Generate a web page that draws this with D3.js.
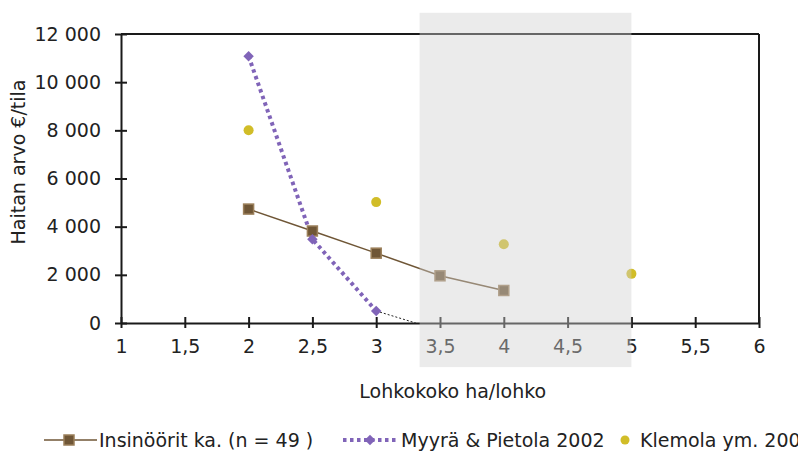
<!DOCTYPE html>
<html>
<head>
<meta charset="utf-8">
<script src="https://cdn.jsdelivr.net/npm/d3@7"></script>
<style>
  body { margin: 0; background: #fff; }
  svg { font-family: "DejaVu Sans", Verdana, sans-serif; }
</style>
</head>
<body>
<div id="chart"></div>
<script>
// chart data
var insX = [2, 2.5, 3, 3.5, 4];
var insY = [4730, 3820, 2900, 1960, 1350];

var myyraX = [2, 2.5, 3];
var myyraY = [11080, 3480, 500];

// thin dotted continuation of the Myyrä line
var trendX = [3, 3.31];
var trendY = [500, 0];

var klemolaX = [2, 3, 4, 5];
var klemolaY = [8000, 5020, 3270, 2040];

var xTicks = [1, 1.5, 2, 2.5, 3, 3.5, 4, 4.5, 5, 5.5, 6];
var yTicks = [0, 2000, 4000, 6000, 8000, 10000, 12000];

// shaded band
var shadeX = [3.34, 5];
var shadeY = [12880, -1830];

var legendNames = ["Insinöörit ka. (n = 49 )", "Myyrä & Pietola 2002", "Klemola ym. 2002"];

// dimensions
var margin = {top: 34, right: 39, bottom: 129, left: 121},
    width = 798 - margin.left - margin.right,
    height = 452 - margin.top - margin.bottom;

var x = d3.scaleLinear().domain([1, 6]).range([0, width]);
var y = d3.scaleLinear().domain([0, 12000]).range([height, 0]);

var svg = d3.select("#chart").append("svg")
    .attr("width", 798)
    .attr("height", 452)
    .style("overflow", "visible");

var plot = svg.append("g")
    .attr("transform", "translate(" + margin.left + "," + margin.top + ")");

var fmtNum = function(d) { return d3.format(",")(d).replace(/,/g, " "); };
var fmtDec = function(d) { return String(d).replace(".", ","); };
var fs = "19px";

// frame: top and right lines
plot.append("line").attr("x1", 0).attr("x2", width).attr("y1", 0).attr("y2", 0)
    .attr("stroke", "#1a1a1a").attr("stroke-width", 2);
plot.append("line").attr("x1", width).attr("x2", width).attr("y1", 0).attr("y2", height)
    .attr("stroke", "#1a1a1a").attr("stroke-width", 2);

// axes
var yAxis = plot.append("g")
    .call(d3.axisLeft(y).tickValues(yTicks).tickFormat(fmtNum).tickSizeInner(5).tickSizeOuter(0).tickPadding(15));
var xAxis = plot.append("g")
    .attr("transform", "translate(0," + height + ")")
    .call(d3.axisBottom(x).tickValues(xTicks).tickFormat(fmtDec).tickSizeInner(5).tickSizeOuter(0).tickPadding(12));

[yAxis, xAxis].forEach(function(a) {
  a.select(".domain").attr("stroke", "#1a1a1a").attr("stroke-width", 2);
  a.selectAll(".tick line").attr("stroke", "#1a1a1a").attr("stroke-width", 2);
  a.selectAll(".tick text").attr("fill", "#222").style("font-size", fs).style("font-family", "DejaVu Sans, Verdana, sans-serif");
});
// ticks crossing the axis line
yAxis.selectAll(".tick line").attr("x1", 6).attr("x2", -6);
xAxis.selectAll(".tick line").attr("y1", -6).attr("y2", 5);

// axis titles
svg.append("text")
    .attr("transform", "translate(25,162) rotate(-90)")
    .attr("text-anchor", "middle")
    .attr("fill", "#222")
    .style("font-size", fs)
    .text("Haitan arvo €/tila");

svg.append("text")
    .attr("x", margin.left + x(3.6))
    .attr("y", 398)
    .attr("text-anchor", "middle")
    .attr("fill", "#222")
    .style("font-size", fs)
    .text("Lohkokoko ha/lohko");

// series
var insData = insX.map(function(d, i) { return {x: d, y: insY[i]}; });
var myyraData = myyraX.map(function(d, i) { return {x: d, y: myyraY[i]}; });
var trendData = trendX.map(function(d, i) { return {x: d, y: trendY[i]}; });
var klemolaData = klemolaX.map(function(d, i) { return {x: d, y: klemolaY[i]}; });

var line = d3.line()
    .x(function(d) { return x(d.x); })
    .y(function(d) { return y(d.y); });

var brown = "#6f5636", brownEdge = "#9b7f5a";
var purple = "#8064b8";
var yellow = "#d1bd28";

plot.append("path").datum(trendData)
    .attr("d", line).attr("fill", "none")
    .attr("stroke", "#222").attr("stroke-width", 1).attr("stroke-dasharray", "2,2");

plot.append("path").datum(insData)
    .attr("d", line).attr("fill", "none")
    .attr("stroke", brown).attr("stroke-width", 1.5);

plot.append("path").datum(myyraData)
    .attr("d", line).attr("fill", "none")
    .attr("stroke", purple).attr("stroke-width", 4).attr("stroke-dasharray", "3.5,3.5");

plot.selectAll(".sq").data(insData).enter().append("rect")
    .attr("x", function(d) { return x(d.x) - 5; })
    .attr("y", function(d) { return y(d.y) - 5; })
    .attr("width", 10).attr("height", 10)
    .attr("fill", brown).attr("stroke", brownEdge).attr("stroke-width", 1.5);

var diamond = d3.symbol().type(d3.symbolDiamond2).size(70);
plot.selectAll(".dm").data(myyraData).enter().append("path")
    .attr("d", diamond)
    .attr("transform", function(d) { return "translate(" + x(d.x) + "," + y(d.y) + ")"; })
    .attr("fill", purple);

plot.selectAll(".dot").data(klemolaData).enter().append("circle")
    .attr("cx", function(d) { return x(d.x); })
    .attr("cy", function(d) { return y(d.y); })
    .attr("r", 5)
    .attr("fill", yellow);

// shaded band on top
plot.append("rect")
    .attr("x", x(shadeX[0]))
    .attr("y", y(shadeY[0]))
    .attr("width", x(shadeX[1]) - x(shadeX[0]))
    .attr("height", y(shadeY[1]) - y(shadeY[0]))
    .attr("fill", "#d0d0d0")
    .attr("fill-opacity", 0.42);

// legend
var lg = svg.append("g").attr("transform", "translate(0,440)");
lg.append("line").attr("x1", 44).attr("x2", 97).attr("y1", 0).attr("y2", 0)
    .attr("stroke", brown).attr("stroke-width", 1.5);
lg.append("rect").attr("x", 64).attr("y", -5).attr("width", 10).attr("height", 10)
    .attr("fill", brown).attr("stroke", brownEdge).attr("stroke-width", 1.5);
lg.append("text").attr("x", 99).attr("y", 7).attr("fill", "#222").style("font-size", fs).text(legendNames[0]);

lg.append("line").attr("x1", 343).attr("x2", 397).attr("y1", 0).attr("y2", 0)
    .attr("stroke", purple).attr("stroke-width", 4).attr("stroke-dasharray", "3.5,3.5");
lg.append("path").attr("d", diamond).attr("transform", "translate(370,0)").attr("fill", purple);
lg.append("text").attr("x", 401).attr("y", 7).attr("fill", "#222").style("font-size", fs).text(legendNames[1]);

lg.append("circle").attr("cx", 625).attr("cy", 0).attr("r", 4.5).attr("fill", yellow);
lg.append("text").attr("x", 640).attr("y", 7).attr("fill", "#222").style("font-size", fs).text(legendNames[2]);
</script>
</body>
</html>
